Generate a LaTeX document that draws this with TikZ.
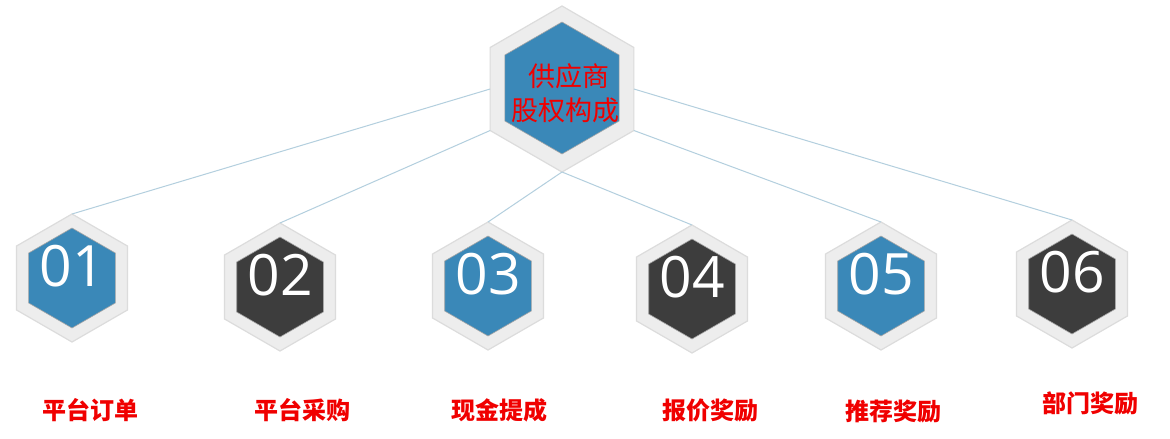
\documentclass[tikz,border=0pt]{standalone}
\usepackage{fontspec}
\newfontfamily\cjk{Noto Sans CJK SC}
\newfontfamily\numfont{Open Sans}
\usetikzlibrary{shapes.geometric,calc}
\definecolor{hexblue}{HTML}{3A88B8}
\definecolor{hexdark}{HTML}{3D3D3D}
\definecolor{outerfill}{HTML}{EDEDED}
\definecolor{outerline}{HTML}{DCDCDC}
\definecolor{linkcol}{HTML}{B3CFDE}
\definecolor{labred}{HTML}{F00000}
\tikzset{
  hexouter/.style={regular polygon, regular polygon sides=6, shape border rotate=30,
    inner sep=0pt, outer sep=0pt, fill=outerfill, draw=outerline, line width=1.2pt,
    minimum size=#1},
  hexinner/.style={regular polygon, regular polygon sides=6, shape border rotate=30,
    inner sep=0pt, outer sep=0pt, draw=black!35, line width=0.6pt, minimum size=#1},
  num/.style={text=white, font=\numfont\fontsize{57}{60}\selectfont, inner sep=0pt},
  lab/.style={text=labred, font=\cjk\bfseries\fontsize{24}{27}\selectfont, inner sep=0pt},
  toptext/.style={text=labred, font=\cjk\fontsize{27}{30}\selectfont, inner sep=0pt},
  link/.style={draw=linkcol, line width=1pt},
}
\begin{document}
\begin{tikzpicture}[x=1pt,y=-1pt]
\useasboundingbox (0,0) rectangle (1170,439);
\fill[white] (0,0) rectangle (1170,439);
% top hexagon
\node[hexouter=166pt] (top) at (562,89) {};
\node[hexinner=132pt, fill=hexblue] (topin) at (562,88) {};
\node[toptext] (t1) at (569,76) {供应商};
\node[toptext] (t2) at (565,110) {股权构成};
% bottom hexagons
\foreach \i/\x/\y/\c in {1/72/278/hexblue, 2/280/287/hexdark, 3/488/286/hexblue,
                         4/692/289/hexdark, 5/881/286/hexblue, 6/1072/284/hexdark}{
  \node[hexouter=128pt] (h\i) at (\x,\y) {};
  \node[hexinner=100pt, fill=\c] (hi\i) at (\x,\y) {};
  \node[num] (n\i) at (\x,\y-12) {0\i};
}
% connectors
\draw[link] (top.180) -- (h1.north);
\draw[link] (top.210) -- (h2.north);
\draw[link] (top.270) -- (h3.north);
\draw[link] (top.270) -- (h4.north);
\draw[link] (top.-30) -- (h5.north);
\draw[link] (top.0) -- (h6.north);
% labels
\node[lab] (l1) at (90,410) {平台订单};
\node[lab] (l2) at (302,410) {平台采购};
\node[lab] (l3) at (499,410) {现金提成};
\node[lab] (l4) at (710,410) {报价奖励};
\node[lab] (l5) at (893,411) {推荐奖励};
\node[lab] (l6) at (1090,403) {部门奖励};
\end{tikzpicture}
\end{document}
